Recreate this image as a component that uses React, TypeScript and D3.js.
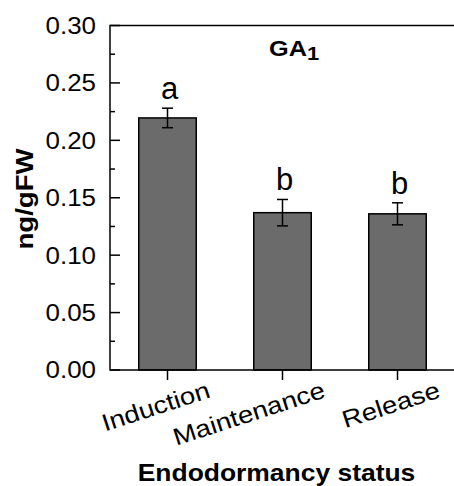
import * as d3 from "d3"

const categories = ["Induction", "Maintenance", "Release"]
const means = [0.2195, 0.137, 0.136]
const errors = [0.0085, 0.0115, 0.0096]
const letters = ["a", "b", "b"]
const yTickValues = [0, 0.05, 0.1, 0.15, 0.2, 0.25, 0.3]
const yMinorValues = [0.025, 0.075, 0.125, 0.175, 0.225, 0.275]

const W = 454
const H = 486
const left = 110
const right = 455
const top = 25.5
const bottom = 370
const SX = 1.15
const font = "'Liberation Sans', Arial, sans-serif"

export default function App() {
  const x = d3
    .scaleBand()
    .domain(categories)
    .range([left, right])
    .paddingInner(0.5)
    .paddingOuter(0.25)

  const y = d3.scaleLinear().domain([0, 0.3]).range([bottom, top])
  const fmt = d3.format(".2f")

  return (
    <svg
      width={W}
      height={H}
      style={{ position: "absolute", left: 0, top: 0, background: "#fff" }}
      fontFamily={font}
    >
      {/* bars */}
      {categories.map((c, i) => (
        <rect
          key={c}
          x={x(c)}
          y={y(means[i])}
          width={x.bandwidth()}
          height={y(0) - y(means[i])}
          fill="#6b6b6b"
          stroke="#000"
          strokeWidth={1.5}
        />
      ))}

      {/* error bars */}
      {categories.map((c, i) => {
        const cx = x(c) + x.bandwidth() / 2
        const hi = y(means[i] + errors[i])
        const lo = y(means[i] - errors[i])
        return (
          <g key={c} stroke="#000" strokeWidth={1.5}>
            <line x1={cx} x2={cx} y1={hi} y2={lo} />
            <line x1={cx - 5.5} x2={cx + 5.5} y1={hi} y2={hi} />
            <line x1={cx - 5.5} x2={cx + 5.5} y1={lo} y2={lo} />
          </g>
        )
      })}

      {/* significance letters */}
      {categories.map((c, i) => (
        <text
          key={c}
          x={x(c) + x.bandwidth() / 2 + 2}
          y={y(means[i] + errors[i]) - 9}
          textAnchor="middle"
          fontSize={31}
          fill="#000"
        >
          {letters[i]}
        </text>
      ))}

      {/* frame */}
      <rect
        x={left}
        y={top}
        width={right - left}
        height={bottom - top}
        fill="none"
        stroke="#000"
        strokeWidth={1.5}
      />

      {/* y ticks */}
      {yTickValues.map((v) => (
        <g key={v}>
          <line x1={left} x2={left + 10} y1={y(v)} y2={y(v)} stroke="#000" strokeWidth={1.5} />
          <text
            transform={`translate(${left - 14},${y(v)}) scale(1.08,1)`}
            textAnchor="end"
            dy="0.35em"
            fontSize={24}
          >
            {fmt(v)}
          </text>
        </g>
      ))}
      {yMinorValues.map((v) => (
        <line key={v} x1={left} x2={left + 5} y1={y(v)} y2={y(v)} stroke="#000" strokeWidth={1.5} />
      ))}

      {/* x ticks + labels */}
      {categories.map((c) => {
        const cx = x(c) + x.bandwidth() / 2
        return (
          <g key={c}>
            <line x1={cx} x2={cx} y1={bottom} y2={bottom + 10} stroke="#000" strokeWidth={1.5} />
            <text
              transform={`translate(${cx + 44},397) rotate(-18) scale(${SX},1)`}
              textAnchor="end"
              fontSize={24}
            >
              {c}
            </text>
          </g>
        )
      })}

      {/* title */}
      <text transform={`translate(269,56) scale(${SX},1)`} fontSize={22} fontWeight="bold">
        GA
        <tspan fontSize={19} dy={4}>
          1
        </tspan>
      </text>

      {/* axis titles */}
      <text
        transform={`translate(33,199) rotate(-90) scale(${SX},1)`}
        textAnchor="middle"
        fontSize={24}
        fontWeight="bold"
      >
        ng/gFW
      </text>
      <text
        transform={`translate(276.5,481) scale(${SX},1)`}
        textAnchor="middle"
        fontSize={23}
        fontWeight="bold"
      >
        Endodormancy status
      </text>
    </svg>
  )
}
